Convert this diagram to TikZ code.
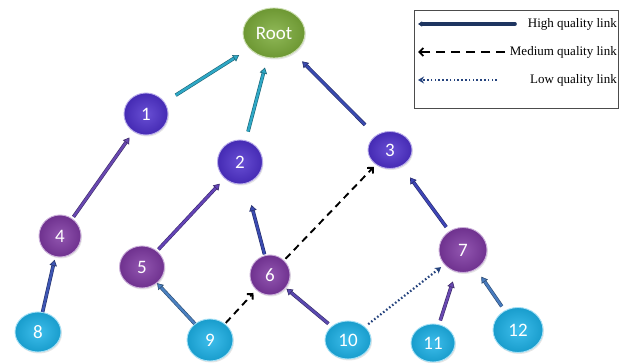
\documentclass[tikz,border=0pt]{standalone}
\usepackage{fontspec}
\setmainfont{Liberation Serif}
\newfontfamily\lblfont{Carlito}
\usetikzlibrary{shapes.geometric,arrows.meta,shadows}
\definecolor{cyanM}{HTML}{1CB2E8}
\definecolor{violM}{HTML}{4E30CC}
\definecolor{purpM}{HTML}{7E38A2}
\definecolor{greenM}{HTML}{7CAC3A}
\definecolor{tealL}{HTML}{2EA8C6}
\definecolor{blueL}{HTML}{3A4AB0}
\definecolor{purpL}{HTML}{6848B0}
\definecolor{steelL}{HTML}{4A80C0}
\definecolor{navyL}{HTML}{1E3560}
\definecolor{dotL}{HTML}{26447E}
\tikzset{
  ball/.style={ellipse, inner sep=0pt, text=white,
    font=\lblfont\fontsize{19}{19}\selectfont,
    draw=#1!40!white, line width=0.9pt,
    shading=radial, inner color=#1!85!white, outer color=#1!88!black,
    drop shadow={shadow xshift=1pt, shadow yshift=-1.5pt, opacity=0.2}},
  sz/.style 2 args={minimum width=#1pt, minimum height=#2pt},
  tube/.style={draw=#1!60!black, double=#1, double distance=2.4pt,
    line width=0.6pt, -{Triangle[length=6pt, width=7.5pt, fill=#1]}},
  medlink/.style={draw=black, line width=1.9pt, dash pattern=on 7pt off 5pt,
    -{Straight Barb[length=4pt, width=8pt]}},
  lowlink/.style={draw=dotL, line width=2.2pt,
    dash pattern=on 1.6pt off 2.2pt, -{Stealth[length=6pt, width=7pt]}},
  legtext/.style={anchor=east, inner sep=0pt, font=\fontsize{13}{13}\selectfont}
}
\begin{document}
\begin{tikzpicture}[x=1pt,y=-1pt]
\useasboundingbox (0,0) rectangle (632,363);
\fill[white] (0,0) rectangle (632,363);

% nodes
\node[ball=greenM, sz={62}{50}] (root) at (274,33) {Root};
\node[ball=violM, sz={44}{42}] (n1) at (146,114) {1};
\node[ball=violM, sz={45}{44}] (n2) at (240,162) {2};
\node[ball=violM, sz={44}{37}] (n3) at (390,150) {3};
\node[ball=purpM, sz={42}{42}] (n4) at (60,236) {4};
\node[ball=purpM, sz={45}{42}] (n5) at (142,267) {5};
\node[ball=purpM, sz={40}{40}] (n6) at (270,275) {6};
\node[ball=purpM, sz={48}{45}] (n7) at (463,250) {7};
\node[ball=cyanM, sz={46}{40}] (n8) at (38,332) {8};
\node[ball=cyanM, sz={46}{42}] (n9) at (210,340) {9};
\node[ball=cyanM, sz={46}{38}] (n10) at (348,340) {10};
\node[ball=cyanM, sz={44}{38}] (n11) at (433,343) {11};
\node[ball=cyanM, sz={50}{45}] (n12) at (518,330) {12};

% links
\draw[tube=tealL, shorten <=13pt, shorten >=12pt] (n1) -- (root);
\draw[tube=tealL, shorten <=9pt, shorten >=10pt] (n2) -- (root);
\draw[tube=blueL, shorten <=15pt, shorten >=12pt] (n3) -- (root);
\draw[tube=purpL, shorten <=2pt, shorten >=7pt] (n4) -- (n1);
\draw[tube=purpL!80!violM, shorten <=2pt, shorten >=7pt] (n5) -- (n2);
\draw[tube=blueL, shorten <=1pt, shorten >=22pt] (n6) -- (n2);
\draw[tube=blueL!80!steelL, shorten <=0pt, shorten >=3pt] (n8) -- (n4);
\draw[tube=steelL, shorten <=0pt, shorten >=0pt] (n9) -- (n5);
\draw[tube=purpL!70!blueL, shorten <=4pt, shorten >=1pt] (n10) -- (n6);
\draw[tube=blueL!80!violM, shorten <=5pt, shorten >=14pt] (n7) -- (n3);
\draw[tube=purpL, shorten <=4pt, shorten >=10pt] (n11) -- (n7);
\draw[tube=steelL!90!blueL, shorten <=5pt, shorten >=9pt] (n12) -- (n7);
\draw[medlink, shorten <=1pt, shorten >=4pt] (n9) -- (n6);
\draw[medlink, shorten <=2pt, shorten >=3pt] (n6) -- (n3);
\draw[lowlink, shorten <=4pt, shorten >=4pt] (n10) -- (n7);

% legend
\draw[black!70, line width=0.8pt] (414,10) rectangle (618,108);
\node[legtext] (th) at (617,24) {High quality link};
\node[legtext] (tm) at (617,52) {Medium quality link};
\node[legtext] (tl) at (617,80) {Low quality link};
\coordinate (hs) at (515,24);
\coordinate (he) at (418,24);
\coordinate (ms) at (505,52);
\coordinate (me) at (418,52);
\coordinate (ls) at (497,80);
\coordinate (le) at (418,80);
\draw[navyL, line width=3.6pt, line cap=round, -{Triangle[length=4pt, width=5pt]}] (hs) -- (he);
\draw[black, line width=1.9pt, dash pattern=on 9pt off 6pt, -{Straight Barb[length=4pt, width=8pt]}] (ms) -- (me);
\draw[lowlink] (ls) -- (le);
\end{tikzpicture}
\end{document}
